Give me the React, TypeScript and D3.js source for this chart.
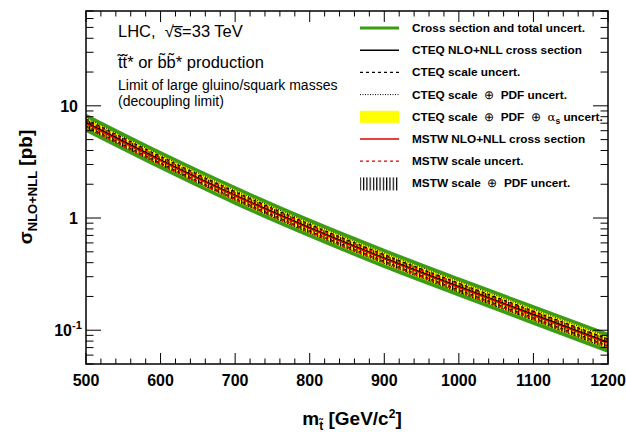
import React from 'react';
import * as d3 from 'd3';

// ---- data ----
const mass = [500, 600, 700, 800, 900, 1000, 1100, 1200];
const cteqXsec = [7.1, 3.3, 1.6, 0.82, 0.44, 0.245, 0.138, 0.078];
const mstwXsec = [6.95, 3.23, 1.57, 0.805, 0.432, 0.24, 0.135, 0.0765];
// relative uncertainties (fraction) vs. mass
const totalUp = [0.16, 0.16, 0.165, 0.165, 0.17, 0.17, 0.175, 0.18];
const totalDown = [0.15, 0.15, 0.155, 0.155, 0.16, 0.16, 0.165, 0.17];
const cteqScale = [0.07, 0.07, 0.07, 0.07, 0.07, 0.07, 0.07, 0.07];
const cteqScalePdf = [0.1, 0.1, 0.1, 0.105, 0.105, 0.11, 0.11, 0.115];
const cteqScalePdfAs = [0.11, 0.11, 0.115, 0.115, 0.12, 0.12, 0.125, 0.13];
const mstwScale = [0.065, 0.065, 0.065, 0.065, 0.065, 0.065, 0.065, 0.065];
const mstwScalePdf = [0.09, 0.09, 0.09, 0.095, 0.095, 0.1, 0.1, 0.105];

const xTicksMajor = [500, 600, 700, 800, 900, 1000, 1100, 1200];
const yTickLabels = [
  { v: 10, base: '10', sup: '' },
  { v: 1, base: '1', sup: '' },
  { v: 0.1, base: '10', sup: '-1' },
];

const legendItems = [
  { kind: 'green', label: 'Cross section and total uncert.' },
  { kind: 'black', label: 'CTEQ NLO+NLL cross section' },
  { kind: 'blackDash', label: 'CTEQ scale uncert.' },
  { kind: 'blackDot', label: 'CTEQ scale \u2295 PDF uncert.' },
  { kind: 'yellow', label: 'CTEQ scale \u2295 PDF \u2295 \u03b1s uncert.' },
  { kind: 'red', label: 'MSTW NLO+NLL cross section' },
  { kind: 'redDash', label: 'MSTW scale uncert.' },
  { kind: 'hatch', label: 'MSTW scale \u2295 PDF uncert.' },
];

const W = 626;
const H = 432;
const L = 86, R = 608, T = 11, B = 364;
const GREEN = '#3c9c14';

function renderLabel(label: string) {
  // split on the ⊕ symbol, draw it light with extra spacing; α_s gets a subscript
  const parts = label.split(' \u2295 ');
  const out: React.ReactNode[] = [];
  parts.forEach((p, i) => {
    if (i > 0) {
      out.push(<tspan key={'o' + i} fontWeight="normal">{'\u00a0\u00a0\u2295\u00a0'}</tspan>);
      out.push(<tspan key={'sp' + i}>{'\u00a0'}</tspan>);
    }
    if (p.startsWith('\u03b1s')) {
      out.push(<tspan key={'a' + i} fontWeight="normal" fontFamily='"DejaVu Serif", serif'>α</tspan>);
      out.push(<tspan key={'s' + i} fontSize={8.5} dy={3}>s</tspan>);
      out.push(<tspan key={'r' + i} dy={-3}>{p.slice(2)}</tspan>);
    } else {
      out.push(<tspan key={'p' + i}>{p}</tspan>);
    }
  });
  return out;
}

export default function App() {
  const x = d3.scaleLinear().domain([500, 1200]).range([L, R]);
  const y = d3.scaleLog().domain([0.05, 70]).range([B, T]);
  const curve = d3.curveMonotoneX;

  const pts = mass.map((m, i) => ({ m, i }));
  const band = (c: number[], up: number[], dn: number[]) =>
    d3.area<{ m: number; i: number }>()
      .x(d => x(d.m))
      .y0(d => y(c[d.i] * (1 - dn[d.i])))
      .y1(d => y(c[d.i] * (1 + up[d.i])))
      .curve(curve)(pts) as string;
  const line = (c: number[], f: number) =>
    d3.line<{ m: number; i: number }>()
      .x(d => x(d.m))
      .y(d => y(c[d.i] * f))
      .curve(curve)(pts) as string;
  const lineRel = (c: number[], r: number[], s: number) =>
    d3.line<{ m: number; i: number }>()
      .x(d => x(d.m))
      .y(d => y(c[d.i] * (1 + s * r[d.i])))
      .curve(curve)(pts) as string;

  const xMinor = d3.range(500, 1201, 20);
  const yTicks = y.ticks();
  const isMajor = (v: number) => Math.abs(Math.log10(v) - Math.round(Math.log10(v))) < 1e-6;

  const font = '"Liberation Sans", Arial, Helvetica, sans-serif';

  const legX0 = 360, legX1 = 399, legTx = 412, legY0 = 28, legDy = 22.2;

  return (
    <svg width={W} height={H} style={{ position: 'absolute', left: 0, top: 0, background: '#fff' }} fontFamily={font}>
      <defs>
        <pattern id="vhatch" patternUnits="userSpaceOnUse" width={3.3} height={10}>
          <rect x={0} y={0} width={1.2} height={10} fill="#000" />
        </pattern>
        <clipPath id="plotclip">
          <rect x={L} y={T} width={R - L} height={B - T} />
        </clipPath>
      </defs>
      <rect x={0} y={0} width={W} height={H} fill="#fff" />

      {/* bands */}
      <g clipPath="url(#plotclip)">
        <path d={band(cteqXsec, totalUp, totalDown)} fill={GREEN} />
        <path d={lineRel(cteqXsec, totalUp, 1)} fill="none" stroke={GREEN} strokeWidth={3} />
        <path d={lineRel(cteqXsec, totalDown, -1)} fill="none" stroke={GREEN} strokeWidth={3} />
        <path d={band(cteqXsec, cteqScalePdfAs, cteqScalePdfAs)} fill="#ffff00" />
        <path d={band(mstwXsec, mstwScalePdf, mstwScalePdf)} fill="url(#vhatch)" />
        <path d={lineRel(cteqXsec, cteqScalePdf, 1)} fill="none" stroke="#000" strokeWidth={1} strokeDasharray="1,1.5" />
        <path d={lineRel(cteqXsec, cteqScalePdf, -1)} fill="none" stroke="#000" strokeWidth={1} strokeDasharray="1,1.5" />
        <path d={lineRel(cteqXsec, cteqScale, 1)} fill="none" stroke="#000" strokeWidth={1.5} strokeDasharray="3,3" />
        <path d={lineRel(cteqXsec, cteqScale, -1)} fill="none" stroke="#000" strokeWidth={1.5} strokeDasharray="3,3" />
        <path d={lineRel(mstwXsec, mstwScale, 1)} fill="none" stroke="#e00000" strokeWidth={1.5} strokeDasharray="3,3" />
        <path d={lineRel(mstwXsec, mstwScale, -1)} fill="none" stroke="#e00000" strokeWidth={1.5} strokeDasharray="3,3" />
        <path d={line(cteqXsec, 1)} fill="none" stroke="#000" strokeWidth={1.5} />
        <path d={line(mstwXsec, 1)} fill="none" stroke="#e00000" strokeWidth={1.5} />
      </g>

      {/* frame */}
      <rect x={L} y={T} width={R - L} height={B - T} fill="none" stroke="#000" strokeWidth={1.5} />

      {/* x ticks */}
      {xMinor.map(v => {
        const maj = xTicksMajor.includes(v);
        const len = maj ? 11 : 5.5;
        return (
          <g key={'xt' + v}>
            <line x1={x(v)} x2={x(v)} y1={B} y2={B - len} stroke="#000" strokeWidth={1} />
            <line x1={x(v)} x2={x(v)} y1={T} y2={T + len} stroke="#000" strokeWidth={1} />
          </g>
        );
      })}
      {xTicksMajor.map(v => (
        <text key={'xl' + v} x={x(v)} y={386} textAnchor="middle" fontSize={16} fontWeight="bold">{v}</text>
      ))}

      {/* y ticks */}
      {yTicks.map(v => {
        const maj = isMajor(v);
        const len = maj ? 15 : 7.5;
        return (
          <g key={'yt' + v}>
            <line x1={L} x2={L + len} y1={y(v)} y2={y(v)} stroke="#000" strokeWidth={1} />
            <line x1={R} x2={R - len} y1={y(v)} y2={y(v)} stroke="#000" strokeWidth={1} />
          </g>
        );
      })}
      {yTickLabels.map(t => (
        <text key={'yl' + t.v} x={t.sup ? 72 : 78} y={y(t.v) + 6} textAnchor="end" fontSize={16} fontWeight="bold">
          {t.base}
        </text>
      ))}
      {yTickLabels.filter(t => t.sup).map(t => (
        <text key={'ys' + t.v} x={72} y={y(t.v) - 1} textAnchor="start" fontSize={11} fontWeight="bold">{t.sup}</text>
      ))}

      {/* axis titles */}
      <text x={352} y={425} textAnchor="middle" fontSize={19} fontWeight="bold">
        m<tspan fontSize={12} dy={5}>t&#x303;</tspan>
        <tspan dy={-5}> [GeV/c</tspan>
        <tspan fontSize={12} dy={-7}>2</tspan>
        <tspan dy={7}>]</tspan>
      </text>
      <text transform="translate(32,187) rotate(-90)" textAnchor="middle" fontSize={19} fontWeight="bold">
        σ<tspan fontSize={13} dy={5}>NLO+NLL</tspan>
        <tspan dy={-5}> [pb]</tspan>
      </text>

      {/* top-left texts */}
      <text x={118} y={37} fontSize={16.5}>{'LHC,\u00a0\u00a0√s\u0305=33 TeV'}</text>
      <text x={118} y={68} fontSize={16.5}>t&#x303;t&#x303;* or b&#x303;b&#x303;* production</text>
      <text x={118} y={90} fontSize={14}>Limit of large gluino/squark masses</text>
      <text x={118} y={106} fontSize={14}>(decoupling limit)</text>

      {/* legend */}
      {legendItems.map((it, k) => {
        const yy = legY0 + k * legDy;
        let sym: React.ReactNode = null;
        if (it.kind === 'green') sym = <line x1={legX0} x2={legX1} y1={yy} y2={yy} stroke={GREEN} strokeWidth={3} />;
        if (it.kind === 'black') sym = <line x1={legX0} x2={legX1} y1={yy} y2={yy} stroke="#000" strokeWidth={1.5} />;
        if (it.kind === 'blackDash') sym = <line x1={legX0} x2={legX1} y1={yy} y2={yy} stroke="#000" strokeWidth={1.2} strokeDasharray="3,3" />;
        if (it.kind === 'blackDot') sym = <line x1={legX0} x2={legX1} y1={yy} y2={yy} stroke="#000" strokeWidth={1} strokeDasharray="1,1.5" />;
        if (it.kind === 'yellow') sym = <rect x={legX0} y={yy - 6} width={legX1 - legX0} height={12} fill="#ffff00" />;
        if (it.kind === 'red') sym = <line x1={legX0} x2={legX1} y1={yy} y2={yy} stroke="#e00000" strokeWidth={1.5} />;
        if (it.kind === 'redDash') sym = <line x1={legX0} x2={legX1} y1={yy} y2={yy} stroke="#e00000" strokeWidth={1.2} strokeDasharray="3,3" />;
        if (it.kind === 'hatch') sym = <rect x={legX0} y={yy - 6} width={legX1 - legX0} height={13} fill="url(#vhatch)" />;
        return (
          <g key={'lg' + k}>
            {sym}
            <text x={legTx} y={yy + 4} fontSize={11.8} fontWeight="bold">{renderLabel(it.label)}</text>
          </g>
        );
      })}
    </svg>
  );
}
